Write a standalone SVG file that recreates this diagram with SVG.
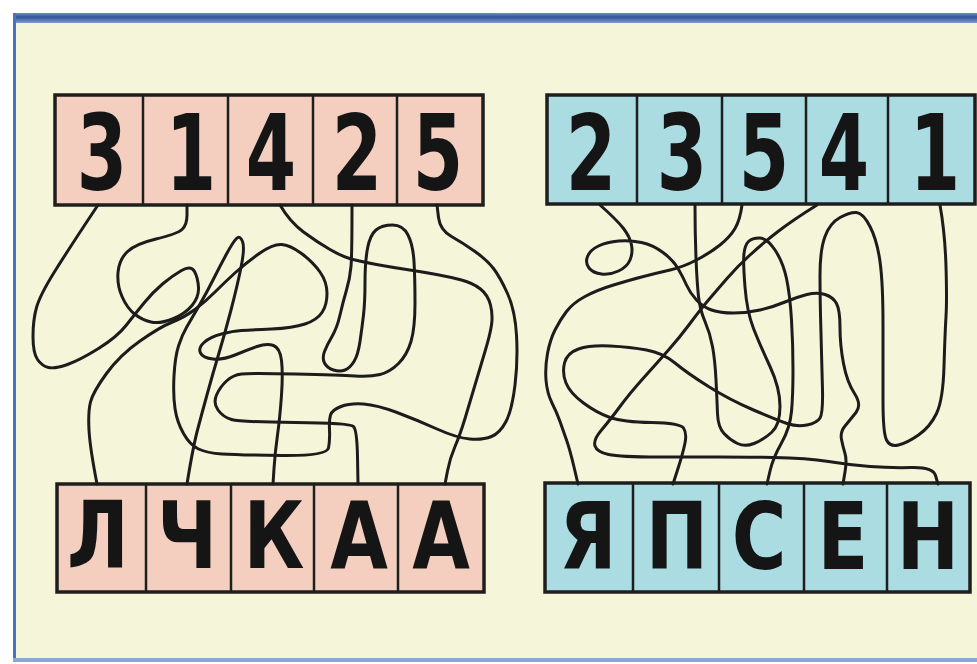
<svg xmlns="http://www.w3.org/2000/svg" width="977" height="664" viewBox="0 0 977 664">
<defs>
<linearGradient id="topbar" x1="0" y1="0" x2="0" y2="1">
<stop offset="0" stop-color="#6f8fcc"/>
<stop offset="0.4" stop-color="#2f529c"/>
<stop offset="1" stop-color="#7f9cd2"/>
</linearGradient>
<style>
.pink{fill:#f4cfc0}
.blue{fill:#aadce1}
.box{stroke:#1e1e1e;stroke-width:3.5}
.div{stroke:#1e1e1e;stroke-width:2.5}
.lbl{font-family:"DejaVu Sans",sans-serif;font-weight:bold;font-stretch:condensed;fill:#151515;text-anchor:middle}
.dg{font-size:106px}
.lt{font-size:92px}
.wire{fill:none;stroke:#1c1c1c;stroke-width:3;stroke-linejoin:round;stroke-linecap:round}
</style>
</defs>
<rect x="0" y="0" width="977" height="664" fill="#ffffff"/>
<rect x="13" y="16" width="964" height="646" fill="#f5f5da"/>
<rect x="13" y="13" width="964" height="10" fill="url(#topbar)"/>
<rect x="13" y="13" width="3" height="649" fill="#4d6fbf"/>
<rect x="13" y="658" width="964" height="4" fill="#8aa6d6"/>

<g id="top-left">
<rect x="55" y="95" width="428" height="110" class="pink"/>
<line x1="143" y1="95" x2="143" y2="205" class="div"/>
<line x1="228" y1="95" x2="228" y2="205" class="div"/>
<line x1="313" y1="95" x2="313" y2="205" class="div"/>
<line x1="397" y1="95" x2="397" y2="205" class="div"/>
<rect x="55" y="95" width="428" height="110" fill="none" class="box"/>
<text class="lbl dg" transform="translate(102,190) scale(0.76,1)">3</text>
<text class="lbl dg" transform="translate(191,190) scale(0.76,1)">1</text>
<text class="lbl dg" transform="translate(271,190) scale(0.76,1)">4</text>
<text class="lbl dg" transform="translate(357,190) scale(0.76,1)">2</text>
<text class="lbl dg" transform="translate(438,190) scale(0.76,1)">5</text>
</g>

<g id="top-right">
<rect x="547" y="95" width="428" height="109" class="blue"/>
<line x1="637" y1="95" x2="637" y2="204" class="div"/>
<line x1="722" y1="95" x2="722" y2="204" class="div"/>
<line x1="806" y1="95" x2="806" y2="204" class="div"/>
<line x1="888" y1="95" x2="888" y2="204" class="div"/>
<rect x="547" y="95" width="428" height="109" fill="none" class="box"/>
<text class="lbl dg" transform="translate(591,190) scale(0.76,1)">2</text>
<text class="lbl dg" transform="translate(682,190) scale(0.76,1)">3</text>
<text class="lbl dg" transform="translate(764,190) scale(0.76,1)">5</text>
<text class="lbl dg" transform="translate(844,190) scale(0.76,1)">4</text>
<text class="lbl dg" transform="translate(935,190) scale(0.76,1)">1</text>
</g>

<g id="bottom-left">
<rect x="57" y="484" width="427" height="108" class="pink"/>
<line x1="146" y1="484" x2="146" y2="592" class="div"/>
<line x1="231" y1="484" x2="231" y2="592" class="div"/>
<line x1="314" y1="484" x2="314" y2="592" class="div"/>
<line x1="398" y1="484" x2="398" y2="592" class="div"/>
<rect x="57" y="484" width="427" height="108" fill="none" class="box"/>
<text class="lbl lt" transform="translate(98,568) scale(0.9,1)">Л</text>
<text class="lbl lt" transform="translate(187,568) scale(0.9,1)">Ч</text>
<text class="lbl lt" transform="translate(274,568) scale(0.9,1)">К</text>
<text class="lbl lt" transform="translate(359,568) scale(0.9,1)">А</text>
<text class="lbl lt" transform="translate(441,568) scale(0.9,1)">А</text>
</g>

<g id="bottom-right">
<rect x="545" y="483" width="425" height="109" class="blue"/>
<line x1="633" y1="483" x2="633" y2="592" class="div"/>
<line x1="719" y1="483" x2="719" y2="592" class="div"/>
<line x1="804" y1="483" x2="804" y2="592" class="div"/>
<line x1="887" y1="483" x2="887" y2="592" class="div"/>
<rect x="545" y="483" width="425" height="109" fill="none" class="box"/>
<text class="lbl lt" transform="translate(588,569) scale(0.9,1)">Я</text>
<text class="lbl lt" transform="translate(677,569) scale(0.9,1)">П</text>
<text class="lbl lt" transform="translate(759,569) scale(0.9,1)">С</text>
<text class="lbl lt" transform="translate(843,569) scale(0.9,1)">Е</text>
<text class="lbl lt" transform="translate(928,569) scale(0.9,1)">Н</text>
</g>

<g id="connectors">
<path class="wire" d="M98,205 Q70,247 55,271 Q40,295 36.5,307.5 Q33,320 33,336.5 Q33,353 37.5,359.5 Q42,366 48.5,367.5 Q55,369 67.5,364.5 Q80,360 98.5,348.5 Q117,337 126,325.5 Q135,314 144,303 Q153,292 162.5,284 Q172,276 181.5,270.5 Q191,265 194.5,271.5 Q198,278 198.5,287.5 Q199,297 192,305.5 Q185,314 172.5,319 Q160,324 151,322 Q142,320 134.5,314 Q127,308 122,296.5 Q117,285 118,272.5 Q119,260 127,252 Q135,244 156,239 Q177,234 182,229.5 Q187,225 187,215 L187,205"/>
<path class="wire" d="M97,484 Q90,448 89,430 Q88,412 90.5,402 Q93,392 106.5,373.5 Q120,355 140,341 Q160,327 172.5,322 Q185,317 195,309.5 Q205,302 215,292 Q225,282 236,272 Q247,262 260,253 Q273,244 281.5,244.5 Q290,245 301.5,253.5 Q313,262 320,272 Q327,282 327,293.5 Q327,305 322,312.5 Q317,320 305,324 Q293,328 271.5,329 Q250,330 241.5,330.5 Q233,331 221.5,334 Q210,337 204,342.5 Q198,348 200.5,353 Q203,358 213,359 Q223,360 235,355 Q247,350 257,346.5 Q267,343 273.5,345.5 Q280,348 281.5,360.5 Q283,373 281.5,395 Q280,417 277.5,435 Q275,453 274,468.5 L273,484"/>
<path class="wire" d="M187,484 Q193,447 197.5,430 Q202,413 207.5,393 Q213,373 219,353 Q225,333 231,310 Q237,287 241,267.5 Q245,248 242.5,241.5 Q240,235 236.5,238.5 Q233,242 226.5,254 Q220,266 213.5,279 Q207,292 199.5,305 Q192,318 187,326.5 Q182,335 178.5,346 Q175,357 174,376 Q173,395 175,408.5 Q177,422 183.5,433.5 Q190,445 198.5,449 Q207,453 222,454 Q237,455 282,455.5 Q327,456 328.5,448 Q330,440 329.5,430 Q329,420 330.5,415 Q332,410 341,406.5 Q350,403 363.5,404 Q377,405 397,412.5 Q417,420 437,429 Q457,438 470,439 Q483,440 491.5,436.5 Q500,433 506,421.5 Q512,410 515,385 Q518,360 516.5,335 Q515,310 507.5,293.5 Q500,277 493.5,268.5 Q487,260 475,251.5 Q463,243 451.5,236.5 Q440,230 438.5,217.5 L437,205"/>
<path class="wire" d="M352,205 Q352,255 351,266.5 Q350,278 346.5,290 Q343,302 340,315 Q337,328 332,336.5 Q327,345 324.5,351.5 Q322,358 324.5,363 Q327,368 333.5,370 Q340,372 345,370 Q350,368 354,361.5 Q358,355 360,341.5 Q362,328 363.5,315 Q365,302 365,282 Q365,262 367.5,248.5 Q370,235 376,230 Q382,225 392.5,225 Q403,225 408,235 Q413,245 414,261.5 Q415,278 415,303 Q415,328 411,341.5 Q407,355 398.5,363.5 Q390,372 380,374.5 Q370,377 355,376 Q340,375 295,374 Q250,373 241.5,374 Q233,375 226.5,381 Q220,387 216.5,395 Q213,403 218,410 Q223,417 231.5,419.5 Q240,422 295,422.5 Q350,423 353.5,426.5 Q357,430 357.5,457 L358,484"/>
<path class="wire" d="M280,205 Q290,222 303.5,232 Q317,242 330,249.5 Q343,257 353,259.5 Q363,262 376.5,264.5 Q390,267 406.5,269.5 Q423,272 436.5,274.5 Q450,277 461.5,280 Q473,283 480.5,289 Q488,295 490.5,305 Q493,315 491.5,325 Q490,335 485,351.5 Q480,368 475,385 Q470,402 465,418.5 Q460,435 455,446.5 Q450,458 447.5,471 L445,484"/>
<path class="wire" d="M600,205 Q617,220 623.5,228.5 Q630,237 631.5,245 Q633,253 630,260 Q627,267 618.5,271 Q610,275 601.5,274 Q593,273 589,268 Q585,263 587.5,256.5 Q590,250 598.5,246 Q607,242 618.5,241 Q630,240 641.5,242.5 Q653,245 663,252.5 Q673,260 678,268.5 Q683,277 686.5,285 Q690,293 696.5,300 Q703,307 711.5,310 Q720,313 733.5,313 Q747,313 760,310 Q773,307 785,302 Q797,297 807,294.5 Q817,292 825,294.5 Q833,297 836.5,303.5 Q840,310 840,327.5 Q840,345 843.5,363.5 Q847,382 854.5,393.5 Q862,405 856,412.5 Q850,420 845,426 Q840,432 841.5,439.5 Q843,447 845,453.5 Q847,460 845,472 L843,484"/>
<path class="wire" d="M695,205 Q695,233 696,258 Q697,283 698.5,296.5 Q700,310 705,321.5 Q710,333 712.5,346.5 Q715,360 716,380 Q717,400 717.5,413.5 Q718,427 724,433.5 Q730,440 737.5,443.5 Q745,447 754,443.5 Q763,440 771.5,432.5 Q780,425 780,406.5 Q780,388 770,366.5 Q760,345 753.5,328.5 Q747,312 745,287 Q743,262 744,253.5 Q745,245 748.5,241.5 Q752,238 759.5,238 Q767,238 775,250 Q783,262 786.5,278.5 Q790,295 791.5,320 Q793,345 793,370 Q793,395 791.5,411.5 Q790,428 781.5,443 Q773,458 770,471 L767,484"/>
<path class="wire" d="M742,205 Q740,220 735,228.5 Q730,237 720,245 Q710,253 696.5,260 Q683,267 670,270 Q657,273 643.5,276.5 Q630,280 613.5,285 Q597,290 585,296.5 Q573,303 566.5,311.5 Q560,320 555,330 Q550,340 547.5,353.5 Q545,367 546,380 Q547,393 552,403 Q557,413 560,421.5 Q563,430 566.5,440 Q570,450 574,467 L578,484"/>
<path class="wire" d="M817,205 Q793,220 778,231.5 Q763,243 750,255 Q737,267 727,278.5 Q717,290 708.5,300 Q700,310 690,323.5 Q680,337 668.5,350 Q657,363 643.5,378 Q630,393 620,406.5 Q610,420 601.5,430 Q593,440 595,446 Q597,452 608.5,454.5 Q620,457 658.5,457 Q697,457 718.5,457 Q740,457 773.5,457.5 Q807,458 828.5,461.5 Q850,465 870,466.5 Q890,468 911.5,467.5 Q933,467 935.5,475.5 L938,484"/>
<path class="wire" d="M940,205 Q945,233 946,266.5 Q947,300 946,316.5 Q945,333 944,366.5 Q943,400 936.5,413.5 Q930,427 918.5,435 Q907,443 898.5,445 Q890,447 886.5,440 Q883,433 883,400 Q883,367 883,325 Q883,283 880,261.5 Q877,240 870,226.5 Q863,213 856.5,212.5 Q850,212 840,217.5 Q830,223 825,236.5 Q820,250 820,275 Q820,300 821,333.5 Q822,367 822.5,390 Q823,413 820,418 Q817,423 807,425 Q797,427 787,423.5 Q777,420 753.5,410 Q730,400 708.5,386.5 Q687,373 675,363 Q663,353 646.5,350 Q630,347 610,346 Q590,345 578.5,349 Q567,353 564.5,363 Q562,373 566,383 Q570,393 583.5,403 Q597,413 610,417.5 Q623,422 651.5,422.5 Q680,423 683.5,428 Q687,433 685,443 Q683,453 678,468.5 L673,484"/>
</g>
</svg>
